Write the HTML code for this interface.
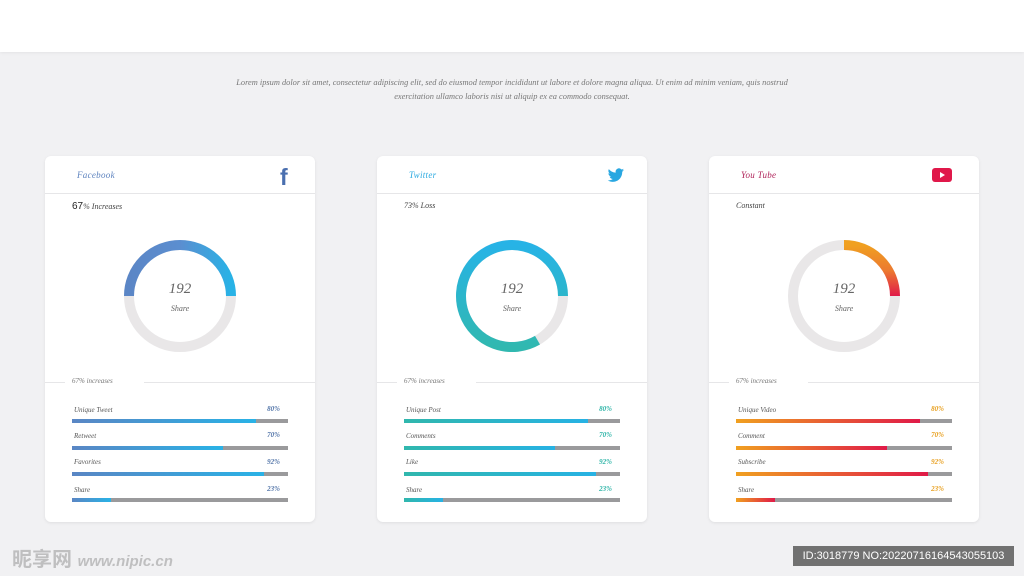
<!DOCTYPE html>
<html><head><meta charset="utf-8"><style>
body{margin:0;width:1024px;height:576px;background:#f1f1f3;font-family:"Liberation Serif",serif;position:relative;overflow:hidden}
.top{position:absolute;left:0;top:0;width:1024px;height:52px;background:#fff;box-shadow:0 1px 3px rgba(0,0,0,.06)}
.lorem{position:absolute;left:0;width:1024px;top:76px;text-align:center;font-style:italic;font-size:8.4px;line-height:14px;color:#777}
.card{position:absolute;top:156px;width:270px;height:366px;background:#fff;border-radius:6px;box-shadow:0 1px 3px rgba(0,0,0,.08)}
.hl{position:absolute;left:0;right:0;top:37px;height:1px;background:#e6e6e8}
.title{position:absolute;left:32px;top:14px;font-style:italic;font-size:9px;letter-spacing:.3px}
.sub{position:absolute;left:27px;top:45px;font-style:italic;font-size:8px;color:#444}
.sub b{font-family:"Liberation Sans",sans-serif;font-style:normal;font-weight:normal;font-size:10px;color:#222}
.sec{position:absolute;top:226px;height:1px;background:#e6e6e8}
.st{position:absolute;left:27px;top:221px;font-size:7px;font-style:italic;color:#777}
.lbl{position:absolute;left:29px;font-style:italic;font-size:7px;color:#555}
.pct{position:absolute;right:35px;font-style:italic;font-weight:bold;font-size:7px}
.bar{position:absolute;left:27px;width:216px;height:4px;background:#9a9a9c}
.bar i{display:block;height:4px}
svg{position:absolute;left:0;top:0}
</style></head><body>
<div class="top"></div>
<div class="lorem">Lorem ipsum dolor sit amet, consectetur adipiscing elit, sed do eiusmod tempor incididunt ut labore et dolore magna aliqua. Ut enim ad minim veniam, quis nostrud<br>exercitation ullamco laboris nisi ut aliquip ex ea commodo consequat.</div>

<!-- Facebook -->
<div class="card" style="left:45px">
<div class="title" style="color:#5d83bf">Facebook</div>
<div style="position:absolute;left:235px;top:8px;font-family:'Liberation Sans',sans-serif;font-weight:bold;font-size:23px;color:#4a6faf">f</div>
<div class="hl"></div>
<div class="sub"><b>67</b>% Increases</div>
<svg width="270" height="366"><defs><linearGradient id="g1" x1="0" x2="1"><stop offset="0" stop-color="#5b86c6"/><stop offset=".5" stop-color="#5b8ed0"/><stop offset="1" stop-color="#28b2e6"/></linearGradient></defs>
<circle cx="135" cy="140" r="51" fill="none" stroke="#e9e7e8" stroke-width="10"/>
<path d="M84 140 A51 51 0 0 1 186 140" fill="none" stroke="url(#g1)" stroke-width="10"/>
<text x="135" y="137" text-anchor="middle" font-style="italic" font-size="15" fill="#666">192</text>
<text x="135" y="155" text-anchor="middle" font-style="italic" font-size="8" fill="#666">Share</text></svg>
<div class="sec" style="left:0;width:20px"></div><div class="sec" style="left:99px;right:0"></div>
<div class="st">67% increases</div>
<div class="lbl" style="top:250px">Unique Tweet</div><div class="pct" style="top:249px;color:#5577aa">80%</div>
<div class="bar" style="top:263px"><i style="width:85%;background:linear-gradient(90deg,#5a86c4,#29b2e6)"></i></div>
<div class="lbl" style="top:276px">Retweet</div><div class="pct" style="top:275px;color:#5577aa">70%</div>
<div class="bar" style="top:290px"><i style="width:70%;background:linear-gradient(90deg,#5a86c4,#29b2e6)"></i></div>
<div class="lbl" style="top:302px">Favorites</div><div class="pct" style="top:302px;color:#5577aa">92%</div>
<div class="bar" style="top:316px"><i style="width:89%;background:linear-gradient(90deg,#5a86c4,#29b2e6)"></i></div>
<div class="lbl" style="top:330px">Share</div><div class="pct" style="top:329px;color:#5577aa">23%</div>
<div class="bar" style="top:342px"><i style="width:18%;background:linear-gradient(90deg,#5a86c4,#29b2e6)"></i></div>
</div>

<!-- Twitter -->
<div class="card" style="left:377px">
<div class="title" style="color:#2aa9e0">Twitter</div>
<svg width="270" height="366"><g transform="translate(97,5.5) scale(0.65)"><path d="M231 13c-1 .5-2 .8-3 .9 1-.6 1.8-1.6 2.2-2.8-1 .6-2.1 1-3.3 1.3a5.1 5.1 0 0 0-8.8 4.7c-4.3-.2-8.1-2.3-10.6-5.4-1.5 2.5-.6 5.5 1.6 7-.8 0-1.6-.3-2.3-.6 0 2.5 1.8 4.6 4.1 5.1-.8.2-1.6.2-2.3.1.6 2 2.5 3.5 4.8 3.6-2 1.6-4.8 2.4-7.6 2.1 2.3 1.5 5 2.3 7.8 2.3 9.5 0 14.7-8.1 14.4-15.5 1-.7 1.9-1.6 2.6-2.6z" fill="#29a7e1"/></g></svg>
<div class="hl"></div>
<div class="sub">73% Loss</div>
<svg width="270" height="366"><defs><linearGradient id="g2" x1="0" y1="0" x2="0" y2="1"><stop offset="0" stop-color="#27b3e6"/><stop offset="1" stop-color="#30b8b0"/></linearGradient></defs>
<circle cx="135" cy="140" r="51" fill="none" stroke="#e9e7e8" stroke-width="10"/>
<path d="M160.5 184.2 A51 51 0 1 1 186 140" fill="none" stroke="url(#g2)" stroke-width="10"/>
<text x="135" y="137" text-anchor="middle" font-style="italic" font-size="15" fill="#666">192</text>
<text x="135" y="155" text-anchor="middle" font-style="italic" font-size="8" fill="#666">Share</text></svg>
<div class="sec" style="left:0;width:20px"></div><div class="sec" style="left:99px;right:0"></div>
<div class="st">67% increases</div>
<div class="lbl" style="top:250px">Unique Post</div><div class="pct" style="top:249px;color:#2fb5a8">80%</div>
<div class="bar" style="top:263px"><i style="width:85%;background:linear-gradient(90deg,#30b7ad,#27b2e4)"></i></div>
<div class="lbl" style="top:276px">Comments</div><div class="pct" style="top:275px;color:#2fb5a8">70%</div>
<div class="bar" style="top:290px"><i style="width:70%;background:linear-gradient(90deg,#30b7ad,#27b2e4)"></i></div>
<div class="lbl" style="top:302px">Like</div><div class="pct" style="top:302px;color:#2fb5a8">92%</div>
<div class="bar" style="top:316px"><i style="width:89%;background:linear-gradient(90deg,#30b7ad,#27b2e4)"></i></div>
<div class="lbl" style="top:330px">Share</div><div class="pct" style="top:329px;color:#2fb5a8">23%</div>
<div class="bar" style="top:342px"><i style="width:18%;background:linear-gradient(90deg,#30b7ad,#27b2e4)"></i></div>
</div>

<!-- YouTube -->
<div class="card" style="left:709px">
<div class="title" style="color:#b0245a">You Tube</div>
<div style="position:absolute;left:223px;top:12px;width:20px;height:14px;background:#e0184a;border-radius:3px"></div>
<div style="position:absolute;left:231px;top:16px;width:0;height:0;border-left:5px solid #fff;border-top:3px solid transparent;border-bottom:3px solid transparent"></div>
<div class="hl"></div>
<div class="sub">Constant</div>
<svg width="270" height="366"><defs><linearGradient id="g3" x1="0" y1="0" x2="0" y2="1"><stop offset="0" stop-color="#f0a020"/><stop offset=".5" stop-color="#ec7a30"/><stop offset="1" stop-color="#e01a48"/></linearGradient></defs>
<circle cx="135" cy="140" r="51" fill="none" stroke="#e9e7e8" stroke-width="10"/>
<path d="M135 89 A51 51 0 0 1 186 140" fill="none" stroke="url(#g3)" stroke-width="10"/>
<text x="135" y="137" text-anchor="middle" font-style="italic" font-size="15" fill="#666">192</text>
<text x="135" y="155" text-anchor="middle" font-style="italic" font-size="8" fill="#666">Share</text></svg>
<div class="sec" style="left:0;width:20px"></div><div class="sec" style="left:99px;right:0"></div>
<div class="st">67% increases</div>
<div class="lbl" style="top:250px">Unique Video</div><div class="pct" style="top:249px;color:#e8a020">80%</div>
<div class="bar" style="top:263px"><i style="width:85%;background:linear-gradient(90deg,#f0a020,#e01a48)"></i></div>
<div class="lbl" style="top:276px">Comment</div><div class="pct" style="top:275px;color:#e8a020">70%</div>
<div class="bar" style="top:290px"><i style="width:70%;background:linear-gradient(90deg,#f0a020,#e01a48)"></i></div>
<div class="lbl" style="top:302px">Subscribe</div><div class="pct" style="top:302px;color:#e8a020">92%</div>
<div class="bar" style="top:316px"><i style="width:89%;background:linear-gradient(90deg,#f0a020,#e01a48)"></i></div>
<div class="lbl" style="top:330px">Share</div><div class="pct" style="top:329px;color:#e8a020">23%</div>
<div class="bar" style="top:342px"><i style="width:18%;background:linear-gradient(90deg,#f0a020,#e01a48)"></i></div>
</div>

<div style="position:absolute;left:12px;top:543px;font-family:'Liberation Sans','Noto Sans CJK SC',sans-serif;font-size:20px;font-weight:bold;color:rgba(150,150,150,.55)">昵享网 <span style="font-size:15px;font-style:italic">www.nipic.cn</span></div>
<div style="position:absolute;left:793px;top:546px;width:221px;height:20px;background:rgba(70,70,70,.75);color:#fff;font-family:'Liberation Sans',sans-serif;font-size:11px;line-height:20px;text-align:center">ID:3018779 NO:20220716164543055103</div>
</body></html>
